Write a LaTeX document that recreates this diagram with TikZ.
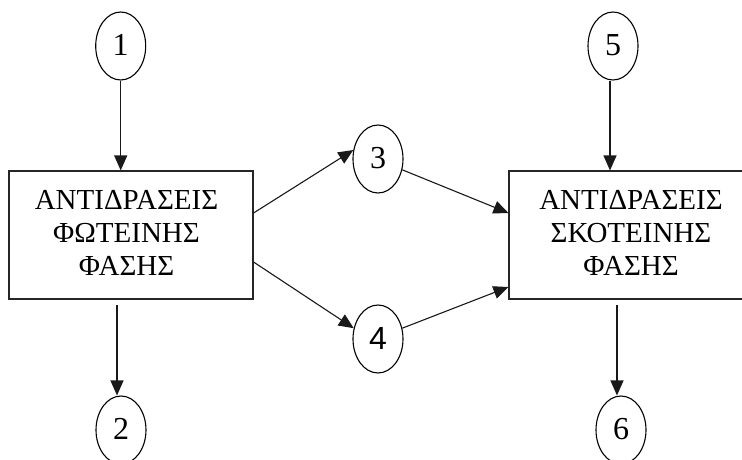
\documentclass[tikz,border=0pt]{standalone}
\usepackage{fontspec}
\setmainfont{Liberation Serif}
\newfontfamily\arialfont{Liberation Sans}
\usetikzlibrary{shapes.geometric,arrows.meta}
\tikzset{
  num/.style={draw=black, line width=1.1pt, ellipse, minimum width=50pt, minimum height=68pt, inner sep=0pt, font=\fontsize{32}{32}\selectfont},
  phasebox/.style={draw=black!85, line width=1.1pt, rectangle, inner sep=0pt},
  boxtext/.style={align=center, font=\fontsize{29}{33}\selectfont},
  conn/.style={draw=black!90, line width=1.1pt, -{Triangle[length=15pt,width=13pt]}},
}
\begin{document}
\begin{tikzpicture}[x=1pt,y=-1pt]
\useasboundingbox[fill=white] (0,0) rectangle (742,460);
% boxes
\node[phasebox, minimum width=244pt, minimum height=128pt] (L) at (131,235) {};
\node[boxtext] (Lt) at (126.5,233) {ΑΝΤΙΔΡΑΣΕΙΣ\\ΦΩΤΕΙΝΗΣ\\ΦΑΣΗΣ};
\node[phasebox, minimum width=252pt, minimum height=128pt] (R) at (635,235) {};
\node[boxtext] (Rt) at (631,233) {ΑΝΤΙΔΡΑΣΕΙΣ\\ΣΚΟΤΕΙΝΗΣ\\ΦΑΣΗΣ};
% ellipses
\node[num] (e1) at (120.7,46) {\raisebox{2pt}{1}};
\node[num] (e2) at (121,430) {\raisebox{2pt}{2}};
\node[num] (e3) at (378,159) {\raisebox{2pt}{3}};
\node[num] (e4) at (378,339) {\raisebox{2pt}{\arialfont 4}};
\node[num] (e5) at (613,46) {\raisebox{2pt}{5}};
\node[num] (e6) at (621,430) {\raisebox{2pt}{6}};
% helper coordinates
\coordinate (L3) at ([yshift=22pt]L.east);
\coordinate (L4) at ([yshift=-27pt]L.east);
\coordinate (R3) at ([yshift=22pt]R.west);
\coordinate (R4) at ([yshift=-52pt]R.west);
\coordinate (L2) at (117,305);
\coordinate (R6) at (617,305);
% connectors
\draw[conn] (e1.south) -- (e1.south |- L.north);
\draw[conn] (e5.south -| 610,0) -- (610,0 |- R.north);
\draw[conn] (L2) -- (L2 |- e2.north);
\draw[conn] (R6) -- (R6 |- e6.north);
\draw[conn] (L3) -- (e3.160);
\draw[conn] (e3.-24) -- (R3);
\draw[conn] (L4) -- (e4.156);
\draw[conn] (e4.24) -- (R4);
\end{tikzpicture}
\end{document}
